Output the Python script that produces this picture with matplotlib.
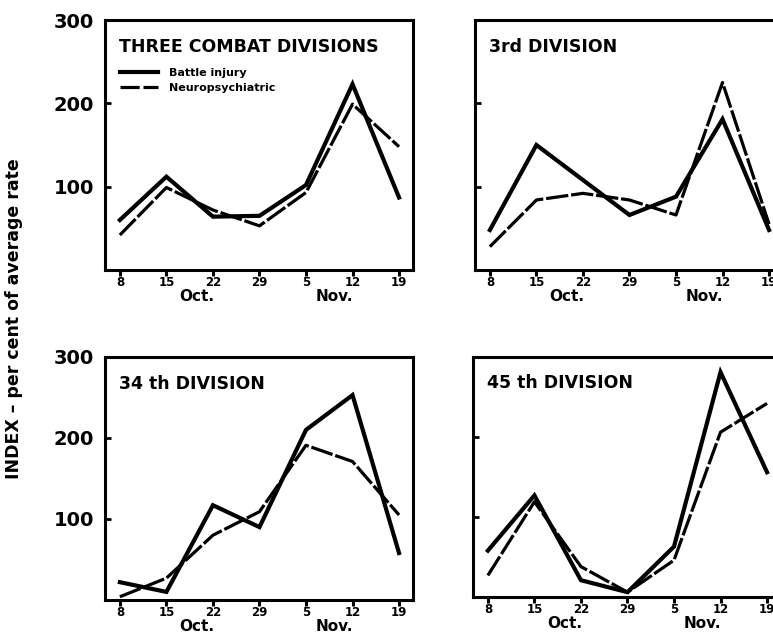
import matplotlib
matplotlib.use("Agg")
import matplotlib.pyplot as plt
from matplotlib.lines import Line2D

# Week-ending dates (Oct. 8 .. Nov. 19)
weeks = ["8", "15", "22", "29", "5", "12", "19"]
months = ["Oct.", "Nov."]
month_pos = [1.65, 4.62]
y_ticks = [100, 200, 300]

# Index values (per cent of average rate)
three_battle = [60, 112, 64, 65, 102, 223, 87]
three_neuro = [42, 99, 72, 53, 93, 199, 148]

third_battle = [48, 150, 108, 66, 88, 181, 48]
third_neuro = [28, 84, 92, 84, 66, 225, 55]

div34_battle = [22, 10, 117, 90, 210, 253, 58]
div34_neuro = [4, 27, 80, 109, 191, 171, 105]

div45_battle = [58, 127, 21, 6, 63, 281, 156]
div45_neuro = [27, 119, 38, 6, 46, 206, 242]

titles = ["THREE COMBAT DIVISIONS", "3rd DIVISION", "34 th DIVISION", "45 th DIVISION"]
battle = [three_battle, third_battle, div34_battle, div45_battle]
neuro = [three_neuro, third_neuro, div34_neuro, div45_neuro]

W, H = 773, 637
fig = plt.figure(figsize=(W / 100, H / 100), dpi=100)
plt.rcParams["font.family"] = ["DejaVu Sans"]
plt.rcParams["font.weight"] = "bold"

# panel boxes in pixels: left, top, right, bottom
boxes = [(105, 20, 413, 270), (475, 20, 783, 270),
         (105, 357, 413, 600), (473, 357, 781, 597)]

dash = (0, (7, 0.9))
x = list(range(len(weeks)))

for i, (l, t, r, b) in enumerate(boxes):
    ax = fig.add_axes([l / W, 1 - b / H, (r - l) / W, (b - t) / H])
    ax.plot(x, battle[i], color="black", lw=3.0, solid_joinstyle="miter")
    ax.plot(x, neuro[i], color="black", lw=2.3, linestyle=dash)
    ax.set_xlim(-0.32, 6.3)
    ax.set_ylim(0, 300)
    for s in ax.spines.values():
        s.set_linewidth(2.2)
    ax.set_xticks(x)
    ax.set_xticklabels(weeks, fontsize=8.5, fontweight="bold")
    ax.tick_params(axis="x", direction="out", length=4, width=2.2, pad=0)
    ax.set_yticks(y_ticks)
    ax.tick_params(axis="y", direction="in", length=4, width=2, pad=8)
    if i % 2 == 0:
        ax.set_yticklabels([str(v) for v in y_ticks], fontsize=14, fontweight="bold")
    else:
        ax.set_yticklabels([])
    for m, p in zip(months, month_pos):
        ax.annotate(m, xy=(p, 0), xycoords=("data", "axes fraction"),
                    xytext=(0, -19), textcoords="offset points",
                    ha="center", va="center", fontsize=11, fontweight="bold")
    ax.text(-0.02, 0.89, titles[i], transform=ax.get_xaxis_transform(),
            ha="left", va="center", fontsize=12.5, fontweight="bold")
    if i == 0:
        handles = [Line2D([], [], color="black", lw=3.0),
                   Line2D([], [], color="black", lw=2.3, linestyle=(0, (6, 1.2)))]
        ax.legend(handles, ["Battle injury", "Neuropsychiatric"],
                  loc="upper left", bbox_to_anchor=(0.049, 0.81),
                  frameon=False, borderpad=0, borderaxespad=0,
                  handlelength=3.4, handletextpad=1.0, labelspacing=0.5,
                  prop={"size": 8, "weight": "bold"})

fig.text(0.018, 0.5, "INDEX – per cent of average rate", rotation=90,
         ha="center", va="center", fontsize=12.5, fontweight="bold")

plt.savefig("out.png", dpi=100)
